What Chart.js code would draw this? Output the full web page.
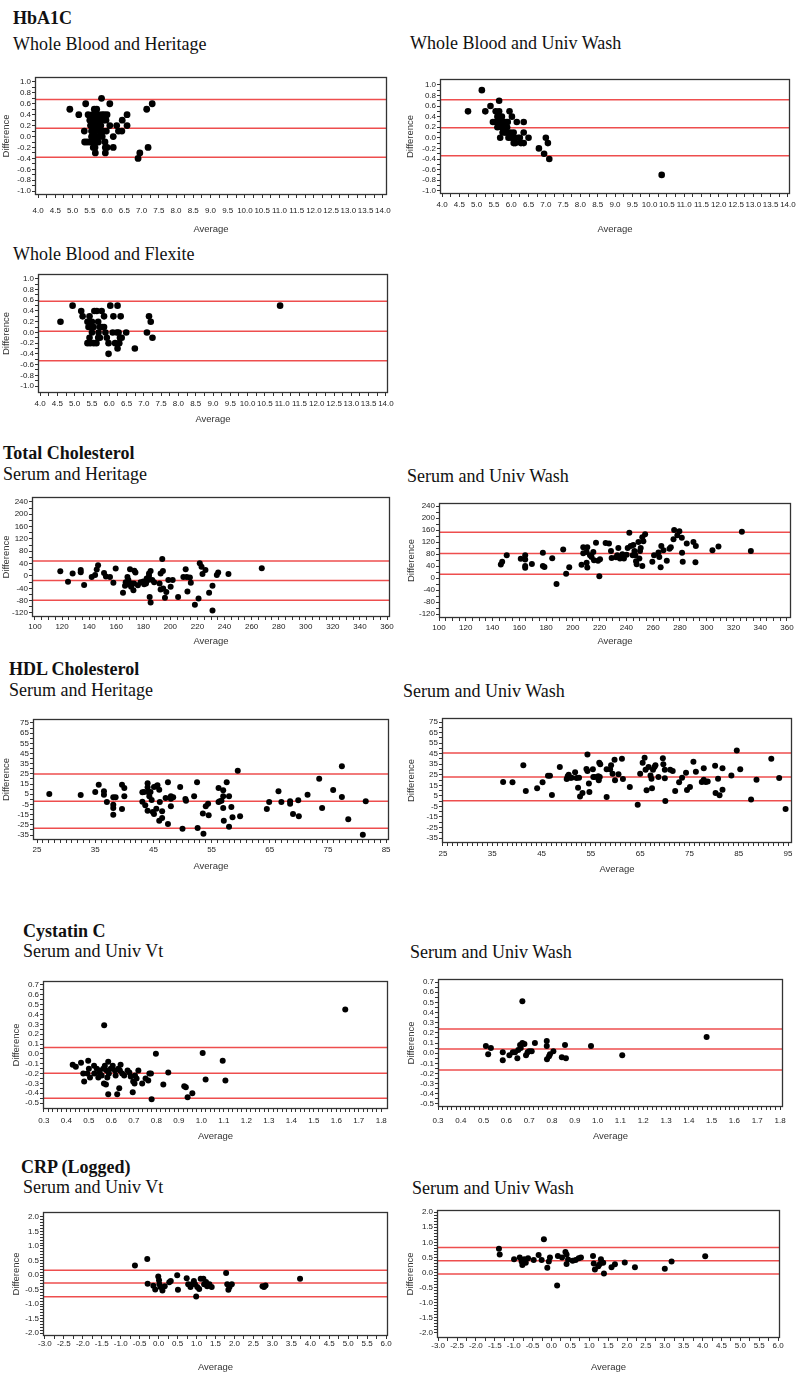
<!doctype html>
<html lang="en">

<head>
    <meta charset="utf-8">
    <title>Bland-Altman plots</title>
    <script src="https://cdn.jsdelivr.net/npm/chart.js@4.4.0/dist/chart.umd.min.js"></script>
    <style>
        html, body { margin: 0; padding: 0; background: #fff; overflow: hidden; }
        #page { position: relative; width: 796px; height: 1374px; overflow: hidden; }
        .t { position: absolute; font-family: 'Liberation Serif', 'Times New Roman', serif; font-size: 18px;
             line-height: 18px; color: #111; white-space: nowrap; }
        .b { font-weight: bold; }
    </style>
</head>

<body>
    <div id="page"></div>
</body>
<script>
    // ---- data: average / difference pairs and limits (upper, mean, lower) ----
    const a1cHerAvg = [4.92,5.18,5.38,5.34,5.84,6.08,6.58,6.44,6.58,6.28,6.33,6.43,6.18,6.18,6.08,6.9,6.95,7.19,7.15,7.31,
        5.45,5.5,5.52,5.55,5.58,5.6,5.6,5.62,5.63,5.65,5.66,5.68,5.65,5.66,5.7,5.72,5.72,5.74,5.75,5.78,5.8,5.82,5.85,5.86,5.88,
        5.9,5.92,5.94,5.95,5.95,5.97,6.0,6.0,5.35,5.42,5.5,5.58,5.6,5.55,5.68,5.75,5.85,5.98];
    const a1cHerDiff = [0.5,0.4,0.6,0.1,0.7,0.6,0.4,0.3,0.2,0.2,0.1,0.1,0.0,-0.2,0.2,-0.4,-0.3,-0.2,0.5,0.6,
        0.4,0.3,0.2,0.1,0.4,0.3,0.2,0.0,0.5,0.4,0.1,-0.1,-0.2,-0.3,0.5,0.3,0.2,0.0,-0.1,0.1,0.3,0.2,0.4,0.0,0.3,
        0.1,0.4,-0.1,-0.2,-0.3,0.3,0.4,-0.2,-0.1,-0.1,-0.1,-0.1,-0.2,0.0,0.2,0.4,0.1,0.1];
    const a1cHerLimits = [0.68, 0.15, -0.38];

    const a1cWashAvg = [4.75,5.15,5.25,5.4,5.65,5.47,5.95,6.02,6.16,6.36,6.36,6.07,6.07,6.2,6.28,6.36,6.5,5.68,5.92,6.8,6.95,7.1,7.0,7.06,10.35,
        5.55,5.6,5.62,5.65,5.6,5.67,5.7,5.72,5.75,5.73,5.78,5.8,5.82,5.85,5.88,5.9,5.76,5.64,5.55,5.85,5.98,6.0,6.1,6.25,6.12];
    const a1cWashDiff = [0.5,0.9,0.5,0.6,0.7,0.3,0.5,0.4,0.3,0.3,0.1,0.1,-0.1,0.0,-0.1,-0.1,0.0,0.0,0.0,-0.2,-0.3,-0.4,0.0,-0.1,-0.7,
        0.5,0.4,0.3,0.5,0.2,0.4,0.3,0.2,0.1,0.4,0.3,0.2,0.1,0.3,0.2,0.3,0.2,0.3,0.3,0.1,0.1,0.0,0.0,0.0,-0.1];
    const a1cWashLimits = [0.72, 0.19, -0.34];

    const a1cFlexAvg = [4.59,4.94,5.19,5.23,5.37,5.43,5.45,5.5,5.4,5.45,5.55,5.5,5.43,5.37,5.45,5.55,5.63,5.68,5.73,5.69,
        5.73,5.79,5.85,5.57,5.64,5.78,5.68,5.85,5.89,5.93,5.98,5.98,6.03,6.12,6.1,6.22,6.24,6.33,6.27,6.17,
        6.24,6.29,6.31,6.36,6.49,6.74,7.09,7.15,7.2,7.25,10.94];
    const a1cFlexDiff = [0.2,0.5,0.4,0.3,0.2,0.3,0.2,0.2,0.1,0.1,0.1,0.0,-0.1,-0.2,-0.2,-0.2,-0.2,-0.1,-0.1,0.0,
        0.1,0.1,0.1,0.4,0.4,0.4,0.2,0.3,0.0,-0.1,-0.2,-0.4,0.5,0.3,0.0,0.0,0.5,0.3,0.0,-0.2,
        -0.3,-0.2,-0.1,-0.1,0.0,-0.3,0.0,0.3,0.2,-0.1,0.5];
    const a1cFlexLimits = [0.58, 0.02, -0.53];

    const tcHerAvg = [118.7,124.4,127.8,133.8,133.8,136.3,141.9,144.4,145.6,146.6,151,152.4,155.4,157.9,159.6,165,166.5,168.3,169,170.2,
        171,171.5,172.7,173.4,174.2,173.2,169,182.5,182,180.6,184.2,184.2,185.4,184.7,185.4,180,186.6,192,192.8,194,
        194.5,192.8,194.7,196,197,198.5,200.2,201.7,205.7,209.6,211.3,212.1,212.6,214.4,215.1,218.1,220.8,221.7,223,223.7,
        225.9,228.6,231.1,231.1,234.3,235.3,242.9,267.5,178,183,176,167,188];
    const tcHerDiff = [15,-19,8,19,12,-29,-3,3,21,35,10,-2,-3,-22,24,-54,-32,-3,-13,22,
        -35,-24,-46,17,11,-24,-27,-8,-24,-27,0,8,16,-68,-86,-18,-13,-24,8,55,
        16,-44,-41,-71,-52,-13,-35,-13,-68,-3,22,-3,-50,-5,-22,-93,-73,41,30,6,
        19,-54,-32,-112,3,11,6,25,-20,-15,-30,-20,-20];
    const tcHerLimits = [48.5, -14.6, -78.8];

    const tcWashAvg = [146.2,147.2,150.6,161.1,164.4,164.4,164.4,164.4,169.4,177.6,177.6,178.8,184.6,187.8,192.8,195,197.3,206.5,207.8,207.8,
        210.8,210.3,210.3,210.8,212.8,214,215.3,215.8,217.3,218.8,219.8,220.3,224.5,227,228.5,229,232.2,233.2,234,235.2,
        237,238.2,240.2,241,242.2,243.2,244.7,245.2,246,246.7,247.2,247.7,249,250.2,250.7,249.7,251.9,251.9,252.7,254,
        259.4,260.7,264,264.6,265.6,266.1,267.7,270.2,272.2,273.2,275.2,275.7,278.1,279.6,281.4,281.6,282.1,285.1,290.1,291.9,
        291.6,304.3,308.8,326.3,333];
    const tcWashDiff = [45,54,76,64,76,62,40,34,47,84,40,37,66,-20,95,14,36,44,83,103,
        103,87,51,35,76,70,87,59,118,58,6,63,117,115,90,67,69,76,100,65,
        79,65,78,100,151,107,76,110,90,76,56,46,120,90,100,65,40,136,123,146,
        54,76,85,70,36,107,93,58,98,103,129,160,143,156,134,84,54,115,120,107,
        53,93,105,154,90];
    const tcWashLimits = [152.5, 81.6, 13];

    const hdlHerAvg = [27.1,32.5,35,35.6,36.5,36.5,37,38.1,38.1,38.1,38.1,38.5,39.6,39.6,40,40,43.1,43.1,43.4,43.6,
        44,44,44.1,44,44.3,44.5,44.7,44.9,45.1,45.1,45.5,45.7,46,46.1,45.5,46.5,46.5,46,47.1,47.5,
        47.5,48,48,48,48.4,49.6,50,50.5,50.6,52,52.5,52.6,53.5,53.6,54,54.4,54.5,56.2,56.2,56.4,
        56.7,57,57,57,57.1,57.6,58,58,58.4,58.6,59.5,59.9,64.5,64.9,66.5,67,68.5,68.5,69,69.9,
        70,71.5,73.5,74,75.9,77.4,77.4,78.5,81,81.5];
    const hdlHerDiff = [5.3,4.3,7.2,14.4,7.9,4.6,-2.6,2,-5.2,-8.5,-15,2,14.4,-9.5,11.2,3,6.9,-2.3,7.2,-5.9,
        15.8,11.8,7.2,-11.1,3,7.2,-0.6,-12.4,-14.4,12.2,12.8,13.8,9.5,-2.6,-9.1,-11.7,-18.3,-20.9,1.4,16.7,
        -24.2,3,0.7,-6.8,2,12.2,-28.8,0.4,-1.3,3,16.7,-28.1,-14,-33.7,-6.8,-4.2,-15.7,11.2,-2.6,-1.9,
        -1.3,8.9,3,-8.5,-20.9,16.7,3,-26.8,-7.5,-17.6,28.2,-16.7,-9.5,-2.6,7.9,-2.6,-1.9,-4.2,-14.4,-0.9,
        -16.7,4.6,20.3,-8.5,9.2,32.4,2.3,-19.6,-34.7,-1.9];
    const hdlHerLimits = [24.9, -1.9, -28.4];

    const hdlWashAvg = [37.2,39.1,41.3,41.8,44.1,45.2,46.3,46.7,47.1,48.7,50.1,50.3,50.5,50.8,51.1,51.8,52.1,52.4,52.6,52.8,
        53.3,54.1,54.3,54.3,54.6,54.7,55.4,55.5,55.8,56.5,56.6,56.7,56.9,56.8,58.2,58.2,58.9,59.1,59.4,59.8,
        59.9,60.6,61.3,61.5,62.9,64.5,65,65.5,65.9,66.1,66.3,66.7,67.1,67.3,67.4,67.6,67.9,68.1,68.7,69.6,
        69.7,70,70,70.1,71.1,71.6,72.1,72.9,73.5,74.3,74.5,75.1,75.8,76.3,77.5,77.9,77.9,78.3,78.7,80.2,
        80.3,80.8,81.1,81.7,81.7,83.5,84.6,85.3,87.5,88.6,91.6,93.2,94.5];
    const hdlWashDiff = [18.1,17.8,33.9,9.6,12.1,17.8,24.1,24.1,5.8,32.3,21,23.5,25.1,22.2,22.2,27.3,21.9,12.7,22.2,4.5,
        7.7,30.4,44.3,28.5,16.8,8.6,30.1,22.8,22.8,23.5,19.7,36.4,34.9,22.8,30.1,3.9,30.1,33.9,26,39.3,
        19.7,25.4,40.2,21,13.4,-3.4,26,36.4,41.2,29.8,10.2,32.3,24.4,21.3,12.1,29.8,32.3,33.9,22.8,40.6,
        34.9,29.8,21.6,0.1,29.8,28.5,9.6,17.8,22.2,27,10.5,13.4,37.4,27.9,18.1,20.3,31.1,18.1,18.7,33.6,
        7.7,21.3,5.5,31.1,10.8,24.4,48.1,30.1,1.5,20.3,40.2,21.9,-7.5];
    const hdlWashLimits = [45.6, 22.8, 0.4];

    const cysVtAvg = [0.428,0.442,0.465,0.475,0.479,0.497,0.493,0.5,0.505,0.523,0.524,0.535,0.542,0.546,0.549,0.557,0.564,0.568,0.567,0.576,
        0.571,0.579,0.582,0.586,0.589,0.586,0.597,0.606,0.616,0.619,0.626,0.631,0.635,0.638,0.641,0.648,0.657,0.672,0.68,0.686,
        0.695,0.697,0.703,0.705,0.712,0.72,0.737,0.752,0.764,0.769,0.776,0.779,0.798,0.831,0.853,0.924,0.931,0.939,0.96,1.006,
        1.019,1.095,1.107,1.64];
    const cysVtDiff = [-0.11,-0.13,-0.09,-0.2,-0.28,-0.07,-0.2,-0.15,-0.24,-0.12,-0.2,-0.15,-0.24,-0.17,-0.2,-0.22,-0.15,0.29,-0.3,-0.31,
        -0.12,-0.17,-0.24,-0.41,-0.2,-0.08,-0.15,-0.12,-0.17,-0.22,-0.41,-0.15,-0.35,-0.17,-0.11,-0.2,-0.22,-0.17,-0.19,-0.23,
        -0.39,-0.28,-0.3,-0.22,-0.25,-0.17,-0.3,-0.25,-0.27,-0.2,-0.2,-0.46,0.0,-0.31,-0.19,-0.33,-0.34,-0.44,-0.4,0.01,
        -0.26,-0.07,-0.27,0.45];
    const cysVtLimits = [0.064, -0.197, -0.452];

    const cysWashAvg = [0.51,0.52,0.532,0.584,0.584,0.613,0.628,0.638,0.648,0.652,0.66,0.663,0.67,0.67,0.679,0.686,
        0.693,0.7,0.711,0.725,0.777,0.777,0.778,0.787,0.791,0.806,0.843,0.857,0.861,0.971,1.108,1.478];
    const cysWashDiff = [0.07,-0.01,0.05,0.01,-0.07,-0.02,0.01,0.01,-0.05,0.03,0.08,0.05,0.51,0.1,0.09,-0.02,
        0.01,0.02,0.02,0.1,0.12,0.07,-0.06,-0.03,-0.01,0.02,-0.04,0.08,-0.05,0.07,-0.02,0.16];
    const cysWashLimits = [0.239, 0.04, -0.167];

    const crpVtAvg = [-0.625,-0.3,-0.29,-0.14,-0.09,-0.01,0.01,0.02,0.05,0.1,0.16,0.28,0.32,0.49,0.51,0.74,0.78,0.84,0.9,0.93,
        0.96,0.99,1.02,1.07,1.11,1.18,1.2,1.25,1.28,1.34,1.4,1.78,1.81,1.84,1.87,1.93,2.74,2.78,2.82,3.73];
    const crpVtDiff = [0.33,0.55,-0.3,-0.37,-0.5,-0.05,-0.18,-0.32,-0.41,-0.53,-0.39,-0.25,-0.21,-0.01,-0.51,-0.11,-0.32,-0.41,-0.3,-0.21,
        -0.32,-0.74,-0.41,-0.48,-0.13,-0.13,-0.32,-0.24,-0.39,-0.32,-0.41,0.07,-0.32,-0.51,-0.41,-0.32,-0.39,-0.41,-0.36,-0.13];
    const crpVtLimits = [0.16, -0.276, -0.747];

    const crpWashAvg = [-1.39,-1.37,-0.99,-0.84,-0.79,-0.77,-0.72,-0.68,-0.62,-0.47,-0.34,-0.26,-0.2,-0.11,-0.04,-0.07,0.15,0.17,0.28,0.37,
        0.4,0.4,0.44,0.56,0.64,0.72,0.78,1.1,1.12,1.15,1.24,1.28,1.31,1.37,1.39,1.59,1.68,1.94,2.21,3.0,3.18,4.07];
    const crpWashDiff = [0.79,0.6,0.44,0.5,0.36,0.25,0.44,0.32,0.47,0.41,0.58,0.41,1.1,0.16,0.5,0.36,-0.43,0.55,0.5,0.68,
        0.6,0.28,0.43,0.39,0.41,0.47,0.5,0.55,0.3,0.1,0.21,0.28,0.44,0.32,-0.03,0.17,0.27,0.33,0.17,0.12,0.36,0.54];
    const crpWashLimits = [0.827, 0.389, -0.049];

    // tick ranges: [first, last, labelled step, minor step, decimals]
    const a1cAvgTicks = [4, 14, 0.5, 0.25, 1];
    const a1cDiffTicks = [-1, 1, 0.2, 0.1, 1];
    const tcAvgTicks = [100, 360, 20, 5, 0];
    const tcDiffTicks = [-120, 240, 40, 20, 0];
    const hdlHerAvgTicks = [25, 85, 10, 1, 0];
    const hdlWashAvgTicks = [25, 95, 10, 1, 0];
    const hdlDiffTicks = [-35, 75, 10, 5, 0];
    const cysAvgTicks = [0.3, 1.8, 0.1, 0.02, 1];
    const cysDiffTicks = [-0.5, 0.7, 0.1, 0.05, 1];
    const crpAvgTicks = [-3, 6, 0.5, 0.25, 1];
    const crpDiffTicks = [-2, 2, 0.5, 0.1, 1];

    const headings = [
        ["HbA1C", 13, 18, true], ["Whole Blood and Heritage", 13, 44], ["Whole Blood and Univ Wash", 410, 43],
        ["Whole Blood and Flexite", 13, 254],
        ["Total Cholesterol", 3, 453, true], ["Serum and Heritage", 3, 474], ["Serum and Univ Wash", 407, 476],
        ["HDL Cholesterol", 9, 669, true], ["Serum and Heritage", 9, 690], ["Serum and Univ Wash", 403, 691],
        ["Cystatin C", 23, 931, true], ["Serum and Univ Vt", 23, 951], ["Serum and Univ Wash", 410, 952],
        ["CRP (Logged)", 21, 1167, true], ["Serum and Univ Vt", 23, 1187], ["Serum and Univ Wash", 412, 1188]
    ];

    // box = plot frame [left, top, right, bottom] in page pixels
    const panels = [
        { avg: a1cHerAvg, diff: a1cHerDiff, lim: a1cHerLimits, xt: a1cAvgTicks, yt: a1cDiffTicks,
          box: [35, 77, 387, 195], xr: [3.91, 14.12], yr: [-1.07, 1.09], diffX: 7, avgY: 229, pad: 8, r: 3.4 },
        { avg: a1cWashAvg, diff: a1cWashDiff, lim: a1cWashLimits, xt: a1cAvgTicks, yt: a1cDiffTicks,
          box: [440, 79, 790, 194], xr: [3.94, 14.06], yr: [-1.06, 1.11], diffX: 411, avgY: 229, pad: 3, r: 3.3 },
        { avg: a1cFlexAvg, diff: a1cFlexDiff, lim: a1cFlexLimits, xt: a1cAvgTicks, yt: a1cDiffTicks,
          box: [38, 274, 388, 393], xr: [3.94, 14.06], yr: [-1.13, 1.09], diffX: 7, avgY: 419, pad: 3, r: 3.3 },
        { avg: tcHerAvg, diff: tcHerDiff, lim: tcHerLimits, xt: tcAvgTicks, yt: tcDiffTicks,
          box: [32, 497, 390, 617], xr: [97.8, 362.2], yr: [-133, 256], diffX: 7, avgY: 641, pad: 2, r: 3 },
        { avg: tcWashAvg, diff: tcWashDiff, lim: tcWashLimits, xt: tcAvgTicks, yt: tcDiffTicks,
          box: [439, 503, 791, 618], xr: [100, 363], yr: [-133, 250], diffX: 412, avgY: 641, pad: 2, r: 3 },
        { avg: hdlHerAvg, diff: hdlHerDiff, lim: hdlHerLimits, xt: hdlHerAvgTicks, yt: hdlDiffTicks,
          box: [33, 719, 389, 840], xr: [24.3, 85.5], yr: [-39.9, 78.9], diffX: 7, avgY: 866, pad: 2, r: 3 },
        { avg: hdlWashAvg, diff: hdlWashDiff, lim: hdlWashLimits, xt: hdlWashAvgTicks, yt: hdlDiffTicks,
          box: [442, 718, 792, 843], xr: [24.8, 95.8], yr: [-39.7, 78.8], diffX: 412, avgY: 869, pad: 3, r: 3 },
        { avg: cysVtAvg, diff: cysVtDiff, lim: cysVtLimits, xt: cysAvgTicks, yt: cysDiffTicks,
          box: [43, 981, 388, 1109], xr: [0.296, 1.83], yr: [-0.56, 0.74], diffX: 17, avgY: 1136, pad: 4, r: 3 },
        { avg: cysWashAvg, diff: cysWashDiff, lim: cysWashLimits, xt: cysAvgTicks, yt: cysDiffTicks,
          box: [438, 979, 783, 1107], xr: [0.3, 1.813], yr: [-0.53, 0.73], diffX: 412, avgY: 1136, pad: 6, r: 3 },
        { avg: crpVtAvg, diff: crpVtDiff, lim: crpVtLimits, xt: crpAvgTicks, yt: crpDiffTicks,
          box: [43, 1212, 388, 1336], xr: [-3.05, 6.05], yr: [-2.1, 2.17], diffX: 17, avgY: 1367, pad: 0, r: 3 },
        { avg: crpWashAvg, diff: crpWashDiff, lim: crpWashLimits, xt: crpAvgTicks, yt: crpDiffTicks,
          box: [437, 1210, 780, 1338], xr: [-3.03, 6.05], yr: [-2.17, 2.07], diffX: 411, avgY: 1367, pad: 0, r: 3 }
    ];

    const page = document.getElementById('page');
    const tickFont = { family: "'Liberation Sans Narrow', 'Liberation Sans', Arial, sans-serif", size: 8 };
    const titleFont = { family: "'Liberation Sans', Arial, sans-serif", size: 9.5, lineHeight: 1.2 };

    headings.forEach(h => {
        let d = document.createElement('div');
        d.className = h[3] ? 't b' : 't';
        d.textContent = h[0];
        d.style.left = h[1] + 'px';
        d.style.top = (h[2] - 9) + 'px';
        page.appendChild(d);
    });

    let buildTicks = t => {
        let out = [];
        let n = Math.round((t[1] - t[0]) / t[3]);
        for (let i = 0; i <= n; i++) out.push({ value: +(t[0] + i * t[3]).toFixed(4) });
        return out;
    };
    let tickLabel = t => v => {
        let k = (v - t[0]) / t[2];
        return Math.abs(k - Math.round(k)) < 1e-6 ? v.toFixed(t[4]) : '';
    };

    const frame = {
        id: 'frame',
        afterDraw(chart) {
            let a = chart.chartArea, ctx = chart.ctx;
            ctx.save();
            ctx.strokeStyle = '#333';
            ctx.lineWidth = 1.3;
            ctx.strokeRect(a.left + 0.5, a.top + 0.5, a.right - a.left - 1, a.bottom - a.top - 1);
            ctx.restore();
        }
    };

    panels.forEach(p => {
        let [bl, bt, br, bb] = p.box;
        let left = Math.round(p.diffX - 6.7);
        let top = bt - 8, right = br + 16, bottom = Math.round(p.avgY + 6.7);
        let cv = document.createElement('canvas');
        cv.width = right - left;
        cv.height = bottom - top;
        cv.style.cssText = 'position:absolute;left:' + left + 'px;top:' + top + 'px;';
        page.appendChild(cv);
        let yW = bl - left, xH = bottom - bb;

        let limitSets = p.lim.map(v => ({
            type: 'line',
            data: [{ x: p.xr[0], y: v }, { x: p.xr[1], y: v }],
            borderColor: 'rgb(238,78,78)',
            borderWidth: 1.5,
            pointRadius: 0,
            fill: false,
            order: 2
        }));

        new Chart(cv, {
            type: 'scatter',
            data: {
                datasets: limitSets.concat([{
                    data: p.avg.map((a, i) => ({ x: a, y: p.diff[i] })),
                    backgroundColor: '#000',
                    borderWidth: 0,
                    pointRadius: p.r,
                    order: 1
                }])
            },
            options: {
                responsive: false,
                animation: false,
                events: [],
                layout: { padding: { top: 8, right: 16, left: 0, bottom: 0 } },
                plugins: { legend: { display: false }, tooltip: { enabled: false } },
                scales: {
                    x: {
                        type: 'linear', min: p.xr[0], max: p.xr[1],
                        afterFit: s => { s.height = xH; },
                        afterBuildTicks: s => { s.ticks = buildTicks(p.xt); },
                        ticks: { autoSkip: false, maxRotation: 0, minRotation: 0, padding: p.pad,
                                 font: tickFont, color: '#222', callback: tickLabel(p.xt) },
                        grid: { drawOnChartArea: false, tickLength: 3, color: '#333' },
                        border: { display: false },
                        title: { display: true, text: 'Average', font: titleFont, color: '#333',
                                 padding: { top: 0, bottom: 1 } }
                    },
                    y: {
                        type: 'linear', min: p.yr[0], max: p.yr[1],
                        afterFit: s => { s.width = yW; },
                        afterBuildTicks: s => { s.ticks = buildTicks(p.yt); },
                        ticks: { autoSkip: false, padding: 1, font: tickFont, color: '#222',
                                 callback: tickLabel(p.yt) },
                        grid: { drawOnChartArea: false, tickLength: 3, color: '#333' },
                        border: { display: false },
                        title: { display: true, text: 'Difference', font: titleFont, color: '#333',
                                 padding: { top: 1, bottom: 0 } }
                    }
                }
            },
            plugins: [frame]
        });
    });
</script>

</html>
